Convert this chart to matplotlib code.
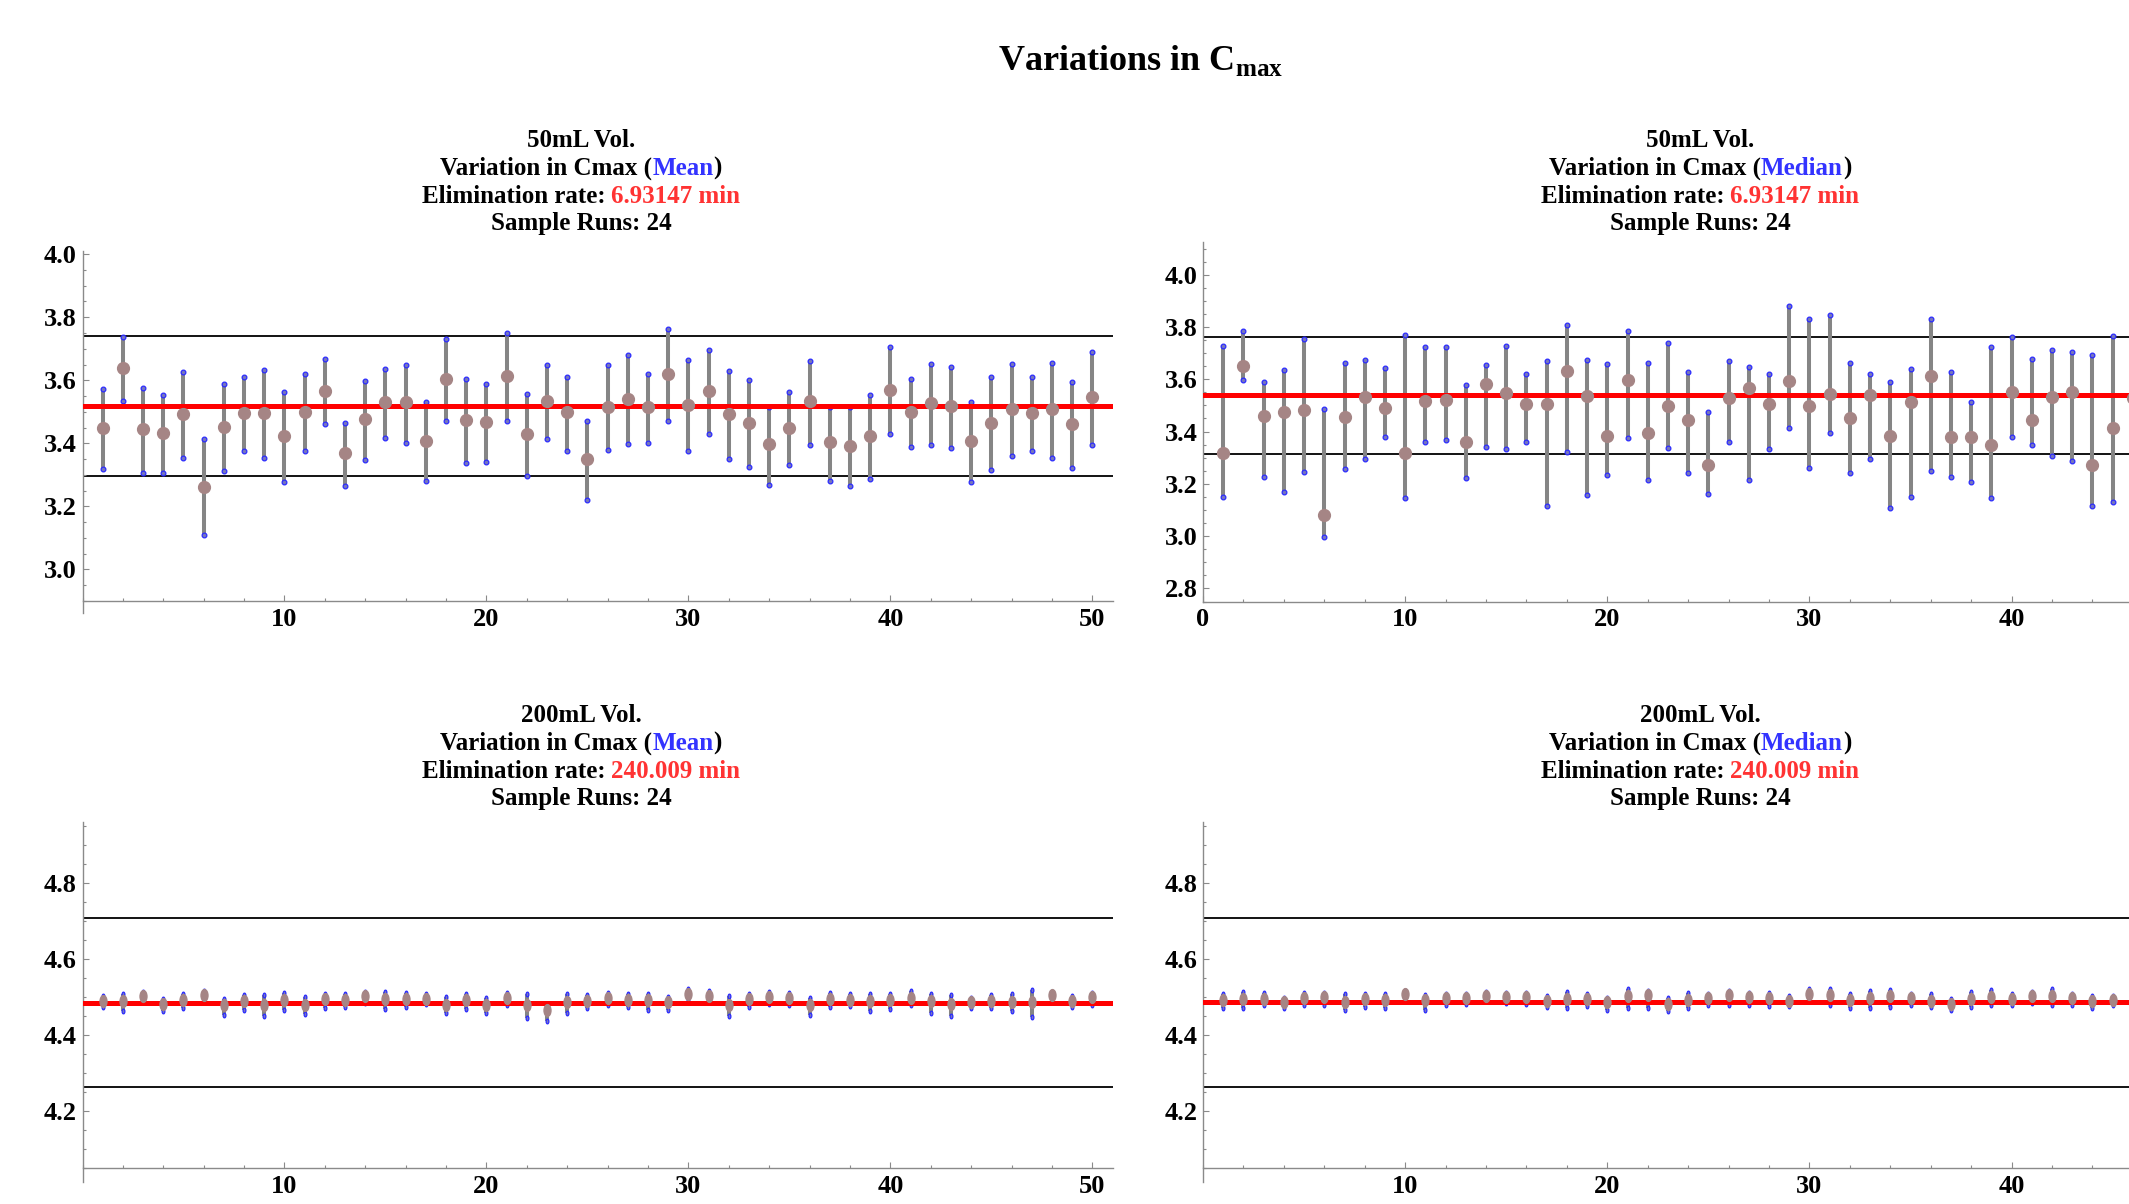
#! /usr/bin/env python
"""
Variations in Cmax: mean / median of 24 sample runs, 50mL and 200mL volumes.
"""
import matplotlib
matplotlib.use("Agg")
import matplotlib.pyplot as plt
from matplotlib.path import Path
from matplotlib.ticker import MultipleLocator, FormatStrFormatter

plt.rcParams["font.family"] = ["Liberation Serif", "DejaVu Serif"]
plt.rcParams["font.weight"] = "bold"
plt.rcParams["mathtext.fontset"] = "custom"
plt.rcParams["mathtext.rm"] = "Liberation Serif:bold"
plt.rcParams["mathtext.bf"] = "Liberation Serif:bold"

# --- 50mL, mean ---
mean_50 = [3.449, 3.640, 3.445, 3.433, 3.494, 3.263, 3.451, 3.495, 3.496, 3.422,
           3.501, 3.566, 3.369, 3.476, 3.531, 3.530, 3.409, 3.603, 3.473, 3.468,
           3.615, 3.429, 3.533, 3.498, 3.349, 3.516, 3.541, 3.514, 3.620, 3.523,
           3.565, 3.494, 3.466, 3.397, 3.449, 3.533, 3.404, 3.393, 3.423, 3.570,
           3.500, 3.528, 3.518, 3.406, 3.466, 3.510, 3.496, 3.510, 3.462, 3.546]
mean_50_hi = [3.572, 3.738, 3.577, 3.553, 3.626, 3.413, 3.587, 3.609, 3.634, 3.563,
              3.620, 3.666, 3.466, 3.598, 3.636, 3.648, 3.532, 3.730, 3.603, 3.589,
              3.749, 3.557, 3.648, 3.610, 3.470, 3.648, 3.680, 3.621, 3.762, 3.664,
              3.695, 3.628, 3.600, 3.516, 3.562, 3.662, 3.516, 3.516, 3.553, 3.706,
              3.605, 3.653, 3.643, 3.531, 3.609, 3.653, 3.609, 3.656, 3.595, 3.690]
mean_50_lo = [3.319, 3.535, 3.307, 3.307, 3.355, 3.109, 3.313, 3.377, 3.353, 3.277,
              3.376, 3.461, 3.266, 3.348, 3.417, 3.402, 3.280, 3.471, 3.338, 3.340,
              3.472, 3.295, 3.413, 3.377, 3.221, 3.379, 3.398, 3.401, 3.472, 3.376,
              3.430, 3.351, 3.324, 3.269, 3.331, 3.395, 3.282, 3.264, 3.287, 3.430,
              3.387, 3.394, 3.386, 3.278, 3.314, 3.360, 3.377, 3.355, 3.322, 3.396]

# --- 50mL, median ---
med_50 = [3.318, 3.651, 3.461, 3.474, 3.483, 3.079, 3.456, 3.534, 3.490, 3.317,
          3.518, 3.522, 3.362, 3.581, 3.546, 3.506, 3.507, 3.632, 3.535, 3.383,
          3.596, 3.394, 3.499, 3.443, 3.273, 3.527, 3.568, 3.506, 3.595, 3.497,
          3.544, 3.452, 3.541, 3.383, 3.515, 3.611, 3.378, 3.381, 3.349, 3.552,
          3.446, 3.532, 3.550, 3.273, 3.415, 3.530]
med_50_hi = [3.726, 3.783, 3.590, 3.634, 3.753, 3.487, 3.661, 3.675, 3.643, 3.771,
             3.724, 3.725, 3.577, 3.656, 3.727, 3.622, 3.669, 3.809, 3.674, 3.657,
             3.783, 3.661, 3.739, 3.627, 3.476, 3.669, 3.646, 3.622, 3.879, 3.832,
             3.846, 3.664, 3.620, 3.589, 3.641, 3.831, 3.627, 3.515, 3.722, 3.763,
             3.676, 3.713, 3.703, 3.692, 3.767, 3.700]
med_50_lo = [3.149, 3.599, 3.225, 3.169, 3.246, 2.995, 3.256, 3.296, 3.380, 3.146,
             3.361, 3.369, 3.224, 3.341, 3.332, 3.362, 3.115, 3.320, 3.157, 3.232,
             3.375, 3.215, 3.336, 3.243, 3.161, 3.362, 3.214, 3.335, 3.415, 3.259,
             3.395, 3.241, 3.294, 3.106, 3.150, 3.251, 3.225, 3.209, 3.145, 3.381,
             3.349, 3.306, 3.287, 3.116, 3.129, 3.360]

# --- 200mL, mean ---
mean_200 = [4.488, 4.488, 4.503, 4.482, 4.491, 4.504, 4.477, 4.488, 4.478, 4.490,
            4.478, 4.493, 4.490, 4.501, 4.495, 4.495, 4.495, 4.479, 4.490, 4.478,
            4.497, 4.479, 4.464, 4.486, 4.488, 4.497, 4.490, 4.490, 4.486, 4.507,
            4.501, 4.479, 4.493, 4.499, 4.497, 4.478, 4.493, 4.490, 4.488, 4.490,
            4.497, 4.488, 4.481, 4.486, 4.488, 4.486, 4.486, 4.504, 4.488, 4.499]
mean_200_hi = [4.501, 4.506, 4.512, 4.495, 4.508, 4.514, 4.494, 4.504, 4.504, 4.510,
               4.500, 4.508, 4.506, 4.513, 4.513, 4.509, 4.507, 4.499, 4.507, 4.497,
               4.509, 4.508, 4.478, 4.508, 4.505, 4.511, 4.507, 4.507, 4.500, 4.521,
               4.514, 4.501, 4.508, 4.512, 4.509, 4.497, 4.509, 4.506, 4.506, 4.508,
               4.514, 4.508, 4.504, 4.497, 4.504, 4.506, 4.517, 4.510, 4.501, 4.510]
mean_200_lo = [4.472, 4.462, 4.491, 4.462, 4.469, 4.493, 4.452, 4.466, 4.449, 4.464,
               4.455, 4.469, 4.472, 4.484, 4.467, 4.473, 4.481, 4.458, 4.467, 4.456,
               4.478, 4.444, 4.436, 4.458, 4.469, 4.478, 4.472, 4.466, 4.465, 4.490,
               4.485, 4.450, 4.474, 4.481, 4.478, 4.452, 4.472, 4.476, 4.462, 4.467,
               4.478, 4.458, 4.448, 4.469, 4.469, 4.461, 4.446, 4.495, 4.474, 4.479]

# --- 200mL, median ---
med_200 = [4.490, 4.495, 4.495, 4.486, 4.497, 4.499, 4.486, 4.493, 4.491, 4.506,
           4.492, 4.497, 4.497, 4.503, 4.500, 4.499, 4.488, 4.493, 4.493, 4.485,
           4.501, 4.504, 4.482, 4.492, 4.497, 4.504, 4.500, 4.497, 4.488, 4.507,
           4.504, 4.492, 4.497, 4.501, 4.497, 4.488, 4.481, 4.493, 4.499, 4.495,
           4.501, 4.501, 4.497, 4.488, 4.490]
med_200_hi = [4.506, 4.513, 4.509, 4.497, 4.509, 4.511, 4.506, 4.507, 4.508, 4.516,
              4.504, 4.508, 4.508, 4.513, 4.510, 4.510, 4.502, 4.513, 4.507, 4.497,
              4.519, 4.514, 4.497, 4.510, 4.507, 4.514, 4.510, 4.510, 4.501, 4.521,
              4.519, 4.506, 4.514, 4.517, 4.507, 4.506, 4.494, 4.513, 4.517, 4.508,
              4.513, 4.521, 4.508, 4.502, 4.502]
med_200_lo = [4.471, 4.471, 4.478, 4.469, 4.478, 4.478, 4.464, 4.474, 4.471, 4.490,
              4.464, 4.479, 4.481, 4.488, 4.484, 4.481, 4.472, 4.471, 4.475, 4.466,
              4.471, 4.471, 4.462, 4.471, 4.479, 4.479, 4.479, 4.475, 4.475, 4.493,
              4.479, 4.471, 4.471, 4.474, 4.479, 4.474, 4.466, 4.472, 4.479, 4.479,
              4.484, 4.478, 4.479, 4.469, 4.479]

# reference lines: [center, upper, lower]
lines_mean_50 = [3.518, 3.741, 3.295]
lines_med_50 = [3.539, 3.762, 3.315]
lines_mean_200 = [4.484, 4.708, 4.261]
lines_med_200 = [4.486, 4.708, 4.261]

W, H = 2129, 1204
BLUE = "#3333ff"
RED = "#ff3333"

# the 200mL panels come out vertically stretched, so are their dots
circle = Path.unit_circle()
OVAL = Path(circle.vertices * [1.0, 1.7], circle.codes)


def add_axes_px(fig, left, top, width, height):
    """Axes placed by pixel box (top-left origin)."""
    return fig.add_axes([left / W, 1 - (top + height) / H, width / W, height / H])


def panel(ax, mid, hi, lo, ref, ylim, xaxis_y, yticks, xticks, marker="o"):
    x = list(range(1, len(mid) + 1))
    ax.set_xlim(0, 51)
    ax.set_ylim(*ylim)
    ax.axhline(ref[1], color="black", lw=1.3, zorder=1)
    ax.axhline(ref[2], color="black", lw=1.3, zorder=1)
    ax.vlines(x, lo, hi, color="#858585", lw=2.9, zorder=2)
    for ends in (lo, hi):
        ax.plot(x, ends, marker=marker, ls="none", ms=3.4, mfc="#7777bb",
                mec="#2b2bff", mew=0.9, zorder=3, clip_on=False)
    ax.axhline(ref[0], color="#ff0000", lw=3.6, zorder=4)
    ax.plot(x, mid, marker=marker, ls="none", ms=8.5, color="#a58585", zorder=5)

    for side in ("top", "right"):
        ax.spines[side].set_visible(False)
    for side in ("left", "bottom"):
        ax.spines[side].set_color("#8a8a8a")
        ax.spines[side].set_linewidth(1.0)
    ax.spines["bottom"].set_position(("data", xaxis_y))

    ax.set_yticks(yticks)
    ax.yaxis.set_major_formatter(FormatStrFormatter("%.1f"))
    ax.yaxis.set_minor_locator(MultipleLocator(0.05))
    ax.set_xticks(xticks)
    ax.xaxis.set_minor_locator(MultipleLocator(2))
    ax.tick_params(which="both", direction="in", color="#8a8a8a",
                   labelcolor="black", labelsize=19, width=0.8)
    ax.tick_params(which="major", length=4)
    ax.tick_params(which="minor", length=2.5)
    ax.tick_params(axis="y", pad=4)
    ax.tick_params(axis="x", pad=5)


def colored_line(fig, cx, baseline, parts, size=18):
    """Centre a line of differently coloured pieces at pixel (cx, baseline)."""
    r = fig.canvas.get_renderer()
    kw = dict(fontsize=size, fontweight="bold", family="Liberation Serif")

    def width(s):
        t = fig.text(0, 0, s, **kw)
        w = t.get_window_extent(r).width
        t.remove()
        return w

    full = "".join(p for p, _ in parts)
    left = cx - width(full) / 2
    bar = width("|")
    prefix = ""
    for text, color in parts:
        off = width(prefix + "|") - bar if prefix else 0
        fig.text((left + off) / W, 1 - baseline / H, text, color=color,
                 ha="left", va="baseline", **kw)
        prefix += text


def title_block(fig, cx, top_baseline, vol, stat, rate):
    step = 27.8
    colored_line(fig, cx, top_baseline, [(vol, "black")])
    colored_line(fig, cx, top_baseline + step,
                 [("Variation in Cmax (", "black"), (stat, BLUE), (")", "black")])
    colored_line(fig, cx, top_baseline + 2 * step,
                 [("Elimination rate: ", "black"), (rate, RED)])
    colored_line(fig, cx, top_baseline + 3 * step,
                 [("Sample Runs: 24", "black")])


def main():
    fig = plt.figure(figsize=(W / 100, H / 100), dpi=100)

    ax = add_axes_px(fig, 82.5, 251, 1030, 362)
    panel(ax, mean_50, mean_50_hi, mean_50_lo, lines_mean_50, (2.862, 4.01), 2.9,
          [3.0, 3.2, 3.4, 3.6, 3.8, 4.0], [10, 20, 30, 40, 50])

    # right column runs past the edge of the picture, as in the original
    ax = add_axes_px(fig, 1203, 241.5, 1031, 360)
    panel(ax, med_50, med_50_hi, med_50_lo, lines_med_50, (2.75, 4.127), 2.75,
          [2.8, 3.0, 3.2, 3.4, 3.6, 3.8, 4.0], [0, 10, 20, 30, 40])

    ax = add_axes_px(fig, 82.5, 822, 1030, 360)
    panel(ax, mean_200, mean_200_hi, mean_200_lo, lines_mean_200, (4.012, 4.96),
          4.05, [4.2, 4.4, 4.6, 4.8], [10, 20, 30, 40, 50], marker=OVAL)

    ax = add_axes_px(fig, 1203, 822, 1031, 360)
    panel(ax, med_200, med_200_hi, med_200_lo, lines_med_200, (4.012, 4.96),
          4.05, [4.2, 4.4, 4.6, 4.8], [10, 20, 30, 40], marker=OVAL)

    fig.text(1141 / W, 1 - 70.5 / H, r"Variations in C$_{\mathbf{max}}$",
             ha="center", va="baseline", fontsize=26, fontweight="bold")

    fig.canvas.draw()
    title_block(fig, 581, 147, "50mL Vol.", "Mean", "6.93147 min")
    title_block(fig, 1700, 147, "50mL Vol.", "Median", "6.93147 min")
    title_block(fig, 581, 722, "200mL Vol.", "Mean", "240.009 min")
    title_block(fig, 1700, 722, "200mL Vol.", "Median", "240.009 min")

    fig.savefig("out.png", dpi=100)


if __name__ == "__main__":
    main()
